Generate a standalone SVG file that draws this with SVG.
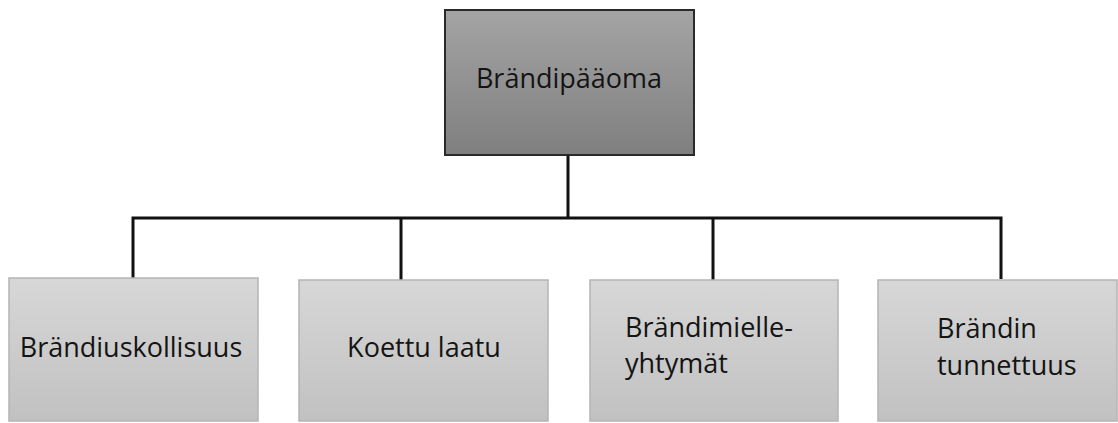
<svg xmlns="http://www.w3.org/2000/svg" width="1118" height="423" viewBox="0 0 1118 423">
  <style>
    .lbl { font-family: "Open Sans", "Liberation Sans", Arial, sans-serif; font-size: 27px; fill: #141414; }
    .root-box { fill: url(#gRoot); stroke: #2a2a2a; stroke-width: 2; }
    .child-box { fill: url(#gChild); stroke: #b4b4b4; stroke-width: 1.5; }
    .wire { fill: none; stroke: #111; stroke-width: 3; }
  </style>
  <defs>
    <linearGradient id="gRoot" x1="0" y1="0" x2="0" y2="1">
      <stop offset="0" stop-color="#a4a4a4"/>
      <stop offset="1" stop-color="#7f7f7f"/>
    </linearGradient>
    <linearGradient id="gChild" x1="0" y1="0" x2="0" y2="1">
      <stop offset="0" stop-color="#d7d7d7"/>
      <stop offset="1" stop-color="#c1c1c1"/>
    </linearGradient>
  </defs>
  <rect width="1118" height="423" fill="#ffffff"/>

  <g id="connectors">
    <path class="wire" d="M568 155 V218"/>
    <path class="wire" d="M133 278 V218 H1001 V279"/>
    <path class="wire" d="M401 218 V280"/>
    <path class="wire" d="M713 218 V280"/>
  </g>

  <g id="node-brandipaaoma">
    <rect class="root-box" x="445" y="10" width="249" height="145"/>
    <text class="lbl" x="569" y="88" text-anchor="middle">Brändipääoma</text>
  </g>

  <g id="node-brandiuskollisuus">
    <rect class="child-box" x="9" y="278" width="249" height="143"/>
    <text class="lbl" x="131" y="357" text-anchor="middle">Brändiuskollisuus</text>
  </g>

  <g id="node-koettu-laatu">
    <rect class="child-box" x="299" y="280" width="249" height="141"/>
    <text class="lbl" x="424" y="357" text-anchor="middle">Koettu laatu</text>
  </g>

  <g id="node-brandimielleyhtymat">
    <rect class="child-box" x="590" y="280" width="248" height="141"/>
    <text class="lbl" x="625" y="337">Brändimielle-</text>
    <text class="lbl" x="625" y="373">yhtymät</text>
  </g>

  <g id="node-brandin-tunnettuus">
    <rect class="child-box" x="878" y="280" width="239" height="141"/>
    <text class="lbl" x="937" y="338">Brändin</text>
    <text class="lbl" x="937" y="375">tunnettuus</text>
  </g>
</svg>
